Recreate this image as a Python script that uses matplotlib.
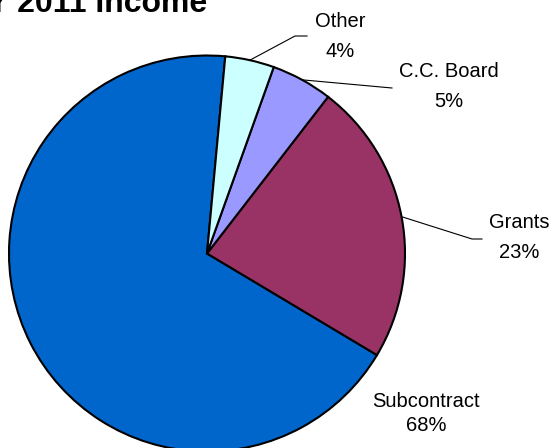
import numpy as np
import matplotlib.pyplot as plt

W, H = 553, 448

labels = ["Subcontract", "Grants", "C.C. Board", "Other"]
values = [67.9, 23.1, 5.0, 4.0]
pct_text = ["68%", "23%", "5%", "4%"]
colors = ["#0066CC", "#993366", "#9999FF", "#CCFFFF"]
title = "FY 2011 Income"

# layout in pixels (y from top): label centre x, name baseline, pct baseline
label_pos = {
    "Subcontract": (426, 407, 431),
    "Grants": (519, 228, 258),
    "C.C. Board": (449, 77, 107),
    "Other": (340, 27, 57),
}
# leader lines: elbow points after the wedge edge
leaders = {
    "Other": [(295, 36), (307, 36)],
    "C.C. Board": [(392, 88)],
    "Grants": [(472, 239), (482, 239)],
}

cx, cy, r = 207, H - 253.5, 198
start = 84.7

fig = plt.figure(figsize=(W / 100, H / 100), dpi=100)
ax = fig.add_axes([0, 0, 1, 1])
wedges, _ = ax.pie(values, colors=colors, startangle=start, counterclock=True,
                   center=(cx, cy), radius=r,
                   wedgeprops=dict(edgecolor="black", linewidth=1.5))
ax.set_xlim(0, W)
ax.set_ylim(0, H)
ax.set_aspect("equal")
ax.axis("off")

for w, name, pct in zip(wedges, labels, pct_text):
    x, yb1, yb2 = label_pos[name]
    ax.text(x, H - yb1, name, ha="center", va="baseline", fontsize=14.5,
            family="Liberation Sans")
    ax.text(x, H - yb2, pct, ha="center", va="baseline", fontsize=14.5,
            family="Liberation Sans")
    if name in leaders:
        mid = np.deg2rad((w.theta1 + w.theta2) / 2)
        xs = [cx + r * np.cos(mid)] + [p[0] for p in leaders[name]]
        ys = [cy + r * np.sin(mid)] + [H - p[1] for p in leaders[name]]
        ax.plot(xs, ys, color="black", lw=0.8)

# title is cut off by the top edge in the original image
fig.text(-32 / W, 1 - 12 / H, title, ha="left", va="baseline",
         fontsize=23, fontweight="bold", family="Liberation Sans")

fig.savefig("out.png", dpi=100)
